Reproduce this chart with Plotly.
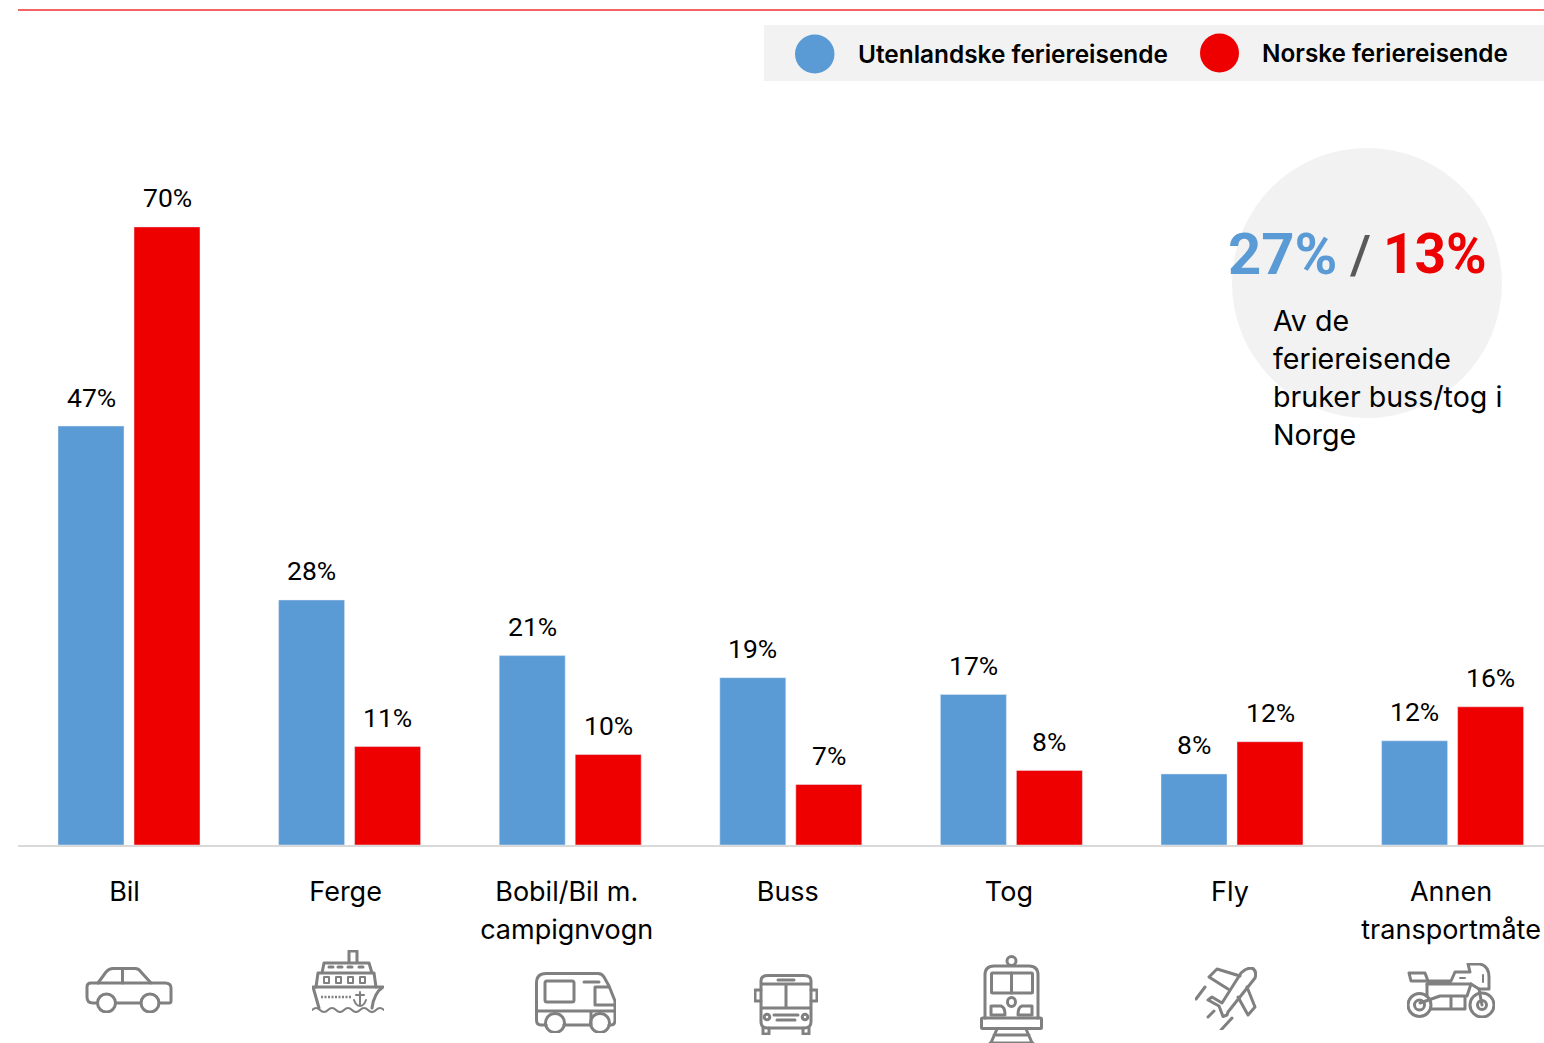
import base64
import plotly.graph_objects as go

categories = ["Bil", "Ferge", "Bobil/Bil m.", "Buss", "Tog", "Fly", "Annen"]
second_lines = ["", "", "campignvogn", "", "", "", "transportmåte"]
foreign = [47.45, 27.75, 21.45, 18.95, 17.05, 8.05, 11.8]
norwegian = [70.0, 11.15, 10.25, 6.85, 8.45, 11.7, 15.65]
foreign_labels = ["47%", "28%", "21%", "19%", "17%", "8%", "12%"]
norwegian_labels = ["70%", "11%", "10%", "7%", "8%", "12%", "16%"]
series_names = ["Utenlandske feriereisende", "Norske feriereisende"]
note_lines = ["Av de", "feriereisende", "bruker buss/tog i", "Norge"]

BLUE, RED, GREY, PANEL = "#5B9BD5", "#EE0000", "#808080", "#F2F2F2"
W, H = 1544, 1043
L, BASE = 18, 845
BAND = 220.6
X0 = 129
FONT = "Inter"
SIZE = 27


def px(x):
    return (x - L) / (W - L)


def py(y):
    return (BASE - y) / BASE


x_pos = list(range(len(categories)))
label_x = [((124.5 + 221.1 * i) - X0) / BAND for i in x_pos]

fig = go.Figure()
fig.add_bar(x=x_pos, y=foreign, marker_color=BLUE, name=series_names[0], showlegend=False)
fig.add_bar(x=x_pos, y=norwegian, marker_color=RED, name=series_names[1], showlegend=False)

ann = []
for i in x_pos:
    ann.append(dict(x=i, y=foreign[i], text=foreign_labels[i], xshift=-38, yshift=29,
                    xref="x", yref="y", showarrow=False, yanchor="middle",
                    font=dict(family="Roboto", size=26.5, color="#000")))
    ann.append(dict(x=i, y=norwegian[i], text=norwegian_labels[i], xshift=38, yshift=29,
                    xref="x", yref="y", showarrow=False, yanchor="middle",
                    font=dict(family="Roboto", size=26.5, color="#000")))


def page_text(x, y, text, size=SIZE, color="#000", anchor="left", family=FONT, weight=None):
    f = dict(family=family, size=size, color=color)
    if weight:
        f["weight"] = weight
    ann.append(dict(x=px(x), y=py(y), text=text, xref="paper", yref="paper", showarrow=False,
                    xanchor=anchor, yanchor="middle", font=f))


page_text(856, 54, series_names[0], size=24.4, weight=600)
page_text(1260, 53, series_names[1], size=24.3, weight=600)
page_text(1226, 254, "27%", size=58, color=BLUE, family="Roboto", weight=700)
page_text(1348, 254, "/", size=54, color="#595959", family="Roboto", weight=500)
page_text(1381, 254, "13%", size=55, color=RED, family="Roboto", weight=700)
for line, yy in zip(note_lines, [320, 358, 396, 435]):
    page_text(1271, yy, line, size=28.6)

shapes = [
    dict(type="line", xref="paper", yref="paper", x0=px(18), x1=px(1544), y0=py(10), y1=py(10),
         line=dict(color="#EE3030", width=1.5)),
    dict(type="rect", xref="paper", yref="paper", x0=px(764), x1=px(1544), y0=py(25), y1=py(81),
         fillcolor=PANEL, line_width=0, layer="below"),
    dict(type="circle", xref="paper", yref="paper", x0=px(795), x1=px(834.5), y0=py(73.5), y1=py(34.5),
         fillcolor=BLUE, line_width=0),
    dict(type="circle", xref="paper", yref="paper", x0=px(1200), x1=px(1239), y0=py(72.5), y1=py(33.5),
         fillcolor=RED, line_width=0),
    dict(type="circle", xref="paper", yref="paper", x0=px(1232), x1=px(1502), y0=py(418), y1=py(148),
         fillcolor=PANEL, line_width=0, layer="below"),
]

ICONS = {
    "car": (85, 967, 88, 46, """
<path d="M12 36H8Q2 36 2 30V20Q2 16 6 16H80Q86 16 86 21V34Q86 36 84 36H74M56 36H31"/>
<path d="M13 16L21 5Q24 1.5 28 1.5H50Q54 1.5 56 5L66 16M37.5 1.5V16"/>
<circle cx="21.500" cy="36" r="9"/><circle cx="65" cy="36" r="9"/>"""),
    "ship": (312, 950, 72, 63, """
<path d="M37 13V1H45V13M10 23L12 13H57L60 23ZM4 37L6 23H62L64 37"/>
<path d="M1 37H71Q62 43 60 58M1 37L7 58"/>
<path d="M17 17H21M26 17H30M36 17H40M47 17H51" stroke-width="3"/>
<rect x="12" y="27" width="5" height="6" stroke-width="2"/><rect x="24" y="27" width="5" height="6" stroke-width="2"/>
<rect x="36" y="27" width="5" height="6" stroke-width="2"/><rect x="48" y="27" width="5" height="6" stroke-width="2"/>
<path d="M9 47H40" stroke-dasharray="2 1.500" stroke-width="2.500" stroke-linecap="butt"/>
<path d="M48 42V55M44 45H52M42 50Q44 56 48 56Q52 56 54 50" stroke-width="2"/>
<path d="M0 60Q4 56 8 60T16 60T24 60T32 60T40 60T48 60T56 60T64 60T72 60" stroke-width="2"/>"""),
    "camper": (535, 972, 81, 61, """
<path d="M11 53H6Q1.500 53 1.500 48V11Q1.500 1.500 11 1.500H63Q67 1.500 69 5L74 14L80 29V48Q80 53 76 53H74M56 53H29"/>
<rect x="10" y="9" width="29" height="21" rx="2"/><path d="M49 10H64M60 15V33H80M60 15H74M1.500 39H56V52M56 39H80"/>
<circle cx="20" cy="51" r="9.500"/><circle cx="65" cy="51" r="9.500"/>"""),
    "bus": (754, 974, 64, 61, """
<path d="M7 7Q7 1.500 14 1.500H50Q57 1.500 57 7V48Q57 54 50 54H14Q7 54 7 48ZM7 10H57M7 34H57M32 10V34"/>
<path d="M7 16H1V27H7M57 16H63V27H57M24 6H40M9 54V60H15V54M49 54V60H55V54"/>
<circle cx="13" cy="43" r="2.800"/><circle cx="51" cy="43" r="2.800"/><path d="M20 41H44M23 46H41"/>"""),
    "train": (980, 955, 63, 88, """
<circle cx="31.500" cy="6" r="4.500"/>
<path d="M5 63V20Q5 11 14 11H49Q58 11 58 20V63"/>
<rect x="11.500" y="18" width="41" height="20" rx="1"/><path d="M31.500 18V38"/>
<ellipse cx="31.500" cy="47" rx="4" ry="4.500"/>
<path d="M11 60V51H21Q25 52 25 60ZM52 60V51H42Q38 52 38 60Z"/>
<rect x="1.500" y="63" width="60" height="10.500" rx="1"/>
<path d="M17 74L10 90M46 74L53 90M14 80H49M10 88H53"/>"""),
    "plane": (1195, 967, 62, 63, """
<path d="M46 6Q52 0 58 1.500Q62 5 60 11L33 45L32 48L28 49.500L24 39L13 33L17 30L27 36Z"/>
<path d="M45 9L22 2L14 10L33 22M52 20L60 40L53 48L43 30M10 20L1 32M19 44L13 50M37 51L26 63"/>"""),
    "moto": (1407, 963, 88, 55, """
<circle cx="12.500" cy="42" r="11.500"/><circle cx="75" cy="42" r="12"/><circle cx="75" cy="42" r="4.500"/>
<circle cx="12.500" cy="42" r="5"/>
<path d="M2 10H18L21 18H4ZM21 18H44L48 9H63L61 1H73Q82 3 82 14V26H72L64 21H20"/>
<path d="M13 40L33 33H58V46H24M44 33V46M20 21V33M64 21L60 33M72 26L75 42"/>
<path d="M53 15H58M76 12V19" stroke-width="2"/>"""),
}

images = []
for x, y, w, h, body in ICONS.values():
    svg = (f'<svg xmlns="http://www.w3.org/2000/svg" width="{w*2}" height="{h*2}" viewBox="0 0 {w} {h}" '
           f'preserveAspectRatio="none"><g fill="none" stroke="{GREY}" stroke-width="3" '
           f'stroke-linejoin="round" stroke-linecap="round">{body}</g></svg>')
    src = "data:image/svg+xml;base64," + base64.b64encode(svg.encode()).decode()
    images.append(dict(source=src, xref="paper", yref="paper", x=px(x), y=py(y), sizex=w / (W - L),
                       sizey=h / BASE, xanchor="left", yanchor="top", sizing="stretch", layer="above"))

x_range = [(L - X0) / BAND, (W - X0) / BAND]
fig.update_layout(
    width=W, height=H, autosize=False,
    margin=dict(l=L, r=0, t=0, b=H - BASE),
    barmode="group", bargap=0.311, bargroupgap=0.1316,
    paper_bgcolor="white", plot_bgcolor="white",
    shapes=shapes, annotations=ann, images=images,
    yaxis=dict(range=[0, BASE / 8.83], visible=False, fixedrange=True),
    xaxis=dict(range=x_range, tickmode="array", tickvals=label_x, ticktext=categories,
               showgrid=False, zeroline=False, showline=True, linecolor="#D9D9D9", linewidth=2,
               ticks="outside", ticklen=22, tickcolor="rgba(0,0,0,0)",
               tickfont=dict(family=FONT, size=SIZE, color="#000"), fixedrange=True),
    xaxis2=dict(range=x_range, overlaying="x", anchor="y", side="bottom", tickmode="array",
                tickvals=label_x, ticktext=second_lines, showgrid=False, zeroline=False,
                ticks="outside", ticklen=61, tickcolor="rgba(0,0,0,0)",
                tickfont=dict(family=FONT, size=SIZE, color="#000"), fixedrange=True),
)
fig.add_scatter(x=[], y=[], xaxis="x2", showlegend=False)
fig.write_html("out.html", config=dict(displayModeBar=False),
               post_script="document.body.style.margin='0';document.body.style.overflow='hidden';")
